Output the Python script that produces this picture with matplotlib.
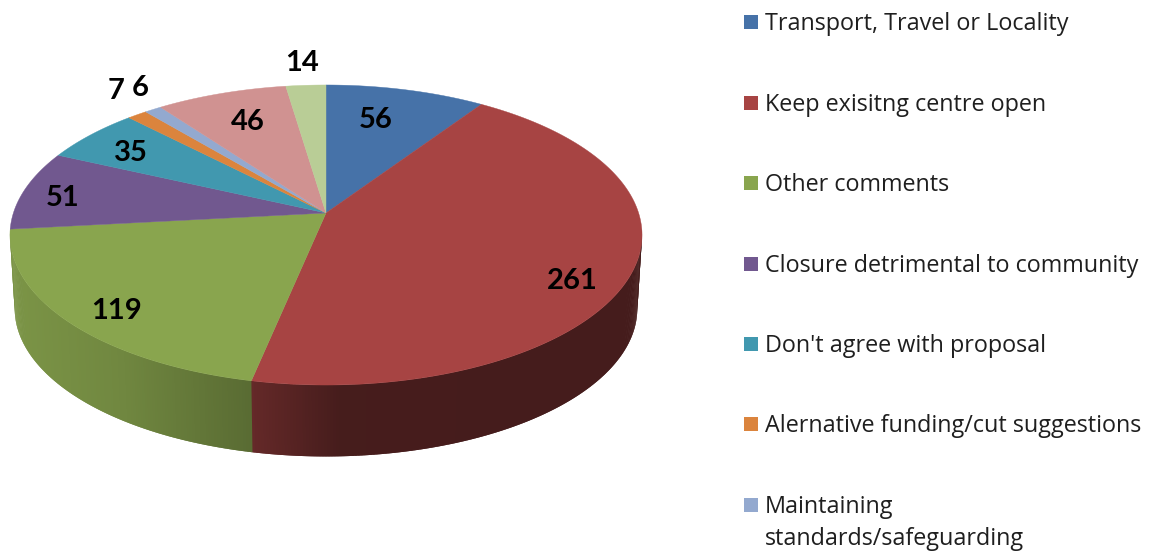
""" Perspective pie of consultation comments, drawn with plain polygons. """

import matplotlib
matplotlib.use('Agg')
import matplotlib.pyplot as plt
import numpy as np
from matplotlib.colors import to_rgb
from matplotlib.patches import Rectangle

categories = ['Transport, Travel or Locality', 'Keep exisitng centre open',
              'Other comments', 'Closure detrimental to community',
              "Don't agree with proposal",
              'Alernative funding/cut suggestions',
              'Maintaining\nstandards/safeguarding', '', '']
values = [56, 261, 119, 51, 35, 7, 6, 46, 14]
colors = ['#4672A8', '#A74443', '#89A54E', '#71588F', '#4198AF',
          '#DB843D', '#93A9CF', '#D09291', '#B9CD96']

# pixel layout
CX, CY = 326, 213
SX, SY = 312.6, 146.8
K = 0.1467
LOWER_SCALE, DEPTH = 0.985, 74
label_xy = [(376, 120), (572, 281), (117, 311), (63, 198), (131, 153),
            (116, 91), (140, 88), (248, 122), (302, 63)]
legend_y = [22, 103, 183, 264, 344, 424, 505]


def project(theta, lower=False):
    """ Clockwise angle from 12 o'clock to pixel position on the rim. """
    x, y = np.sin(theta), np.cos(theta)
    px = SX * x / (1 + K * y)
    py = SY * y / (1 + K * y)
    if lower:
        return CX + LOWER_SCALE * px, CY - LOWER_SCALE * py + DEPTH
    return CX + px, CY - py


def wall_shade(x):
    """ Brightness of the side wall, depending on screen position. """
    return np.interp(x, [10, 120, 252, 253, 340, 650],
                     [0.90, 0.82, 0.65, 0.60, 0.42, 0.41])


fig = plt.figure(figsize=(11.49, 5.51), dpi=100)
ax = fig.add_axes([0, 0, 1, 1])
ax.set_xlim(0, 1149)
ax.set_ylim(551, 0)
ax.axis('off')

edges = np.cumsum([0] + values) / sum(values) * 2 * np.pi

# side wall first, the top covers whatever sticks out
for start, stop, color in zip(edges[:-1], edges[1:], colors):
    steps = np.linspace(start, stop, max(3, int((stop - start) * 120)))
    step = steps[1] - steps[0]
    for t0, t1 in zip(steps[:-1], steps[1:]):
        if np.cos((t0 + t1) / 2) > -0.105:
            continue
        # run each quad into the next one so no seam shows between them
        x0, y0 = project(t0)
        x1, y1 = project(t1 + step)
        x2, y2 = project(t1 + step, lower=True)
        x3, y3 = project(t0, lower=True)
        mid = project((t0 + t1) / 2)[0]
        shade = np.array(to_rgb(color)) * wall_shade(mid)
        ax.fill([x0, x1, x2, x3], [y0, y1, y2, y3], color=shade, lw=0,
                zorder=1)

for start, stop, color in zip(edges[:-1], edges[1:], colors):
    thetas = np.linspace(start, stop, 200)
    xs, ys = project(thetas)
    ax.fill(np.r_[CX, xs], np.r_[CY, ys], color=color, lw=0.3, zorder=2)

for value, (x, y) in zip(values, label_xy):
    ax.text(x, y, str(value), ha='center', va='center', fontsize=21,
            family='Lato', fontweight='bold', color='black', zorder=3)

for name, color, y in zip(categories, colors, legend_y):
    ax.add_patch(Rectangle((744, y - 7), 14, 14, color=color, lw=0))
    ax.text(765, y - 10, name, ha='left', va='top', fontsize=16.8,
            family='Open Sans', color='#1f1f1f', linespacing=1.42)

fig.savefig('out.png', dpi=100, facecolor='white')
plt.close(fig)
